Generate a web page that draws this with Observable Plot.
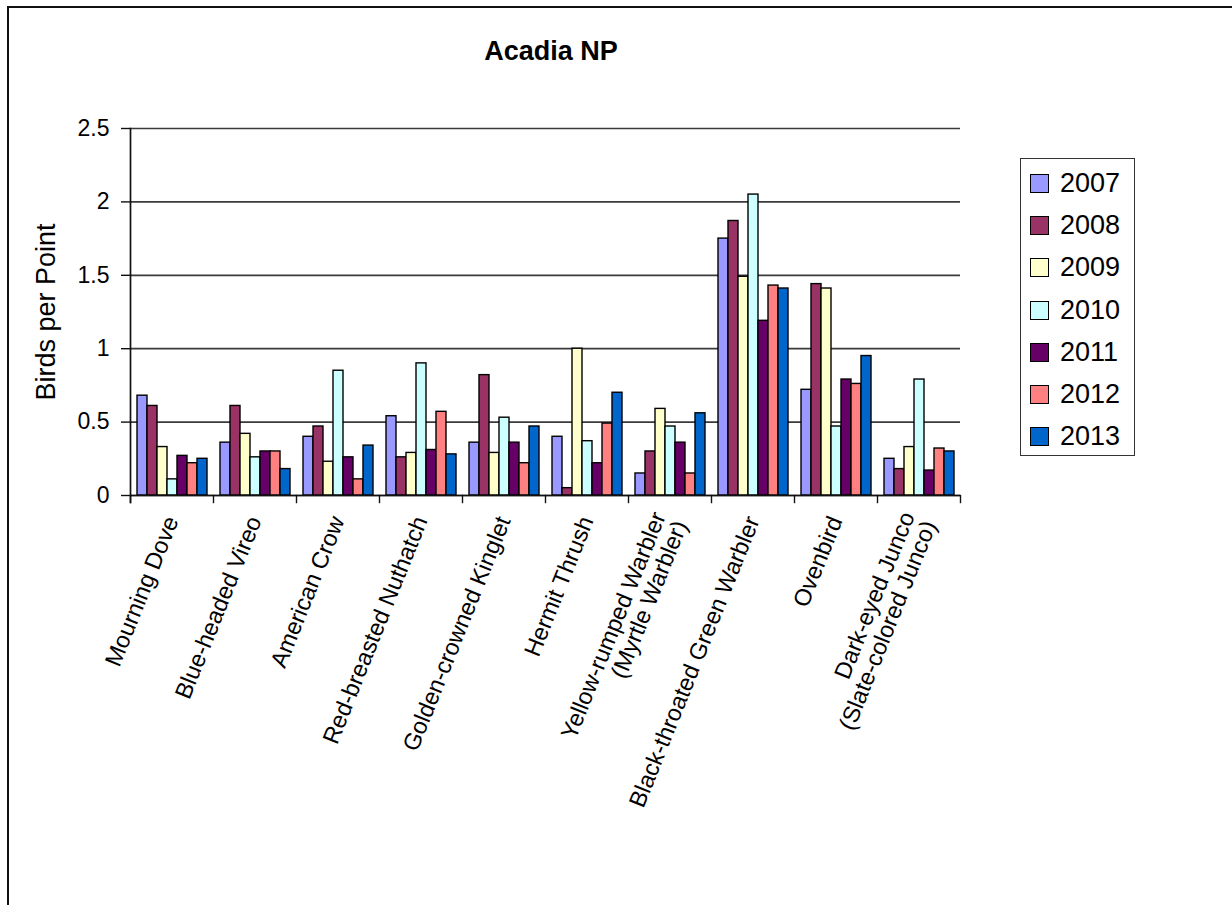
<!DOCTYPE html>
<html>
<head>
<meta charset="utf-8">
<script src="https://cdn.jsdelivr.net/npm/d3@7"></script>
<script src="https://cdn.jsdelivr.net/npm/@observablehq/plot@0.6"></script>
<style>
  body { margin: 0; background: #fff; font-family: "Liberation Sans", Arial, sans-serif; }
  #page { position: relative; width: 1232px; height: 905px; overflow: hidden; background: #fff; }
  #title { position: absolute; left: 351px; width: 400px; top: 38px; text-align: center;
           font-weight: bold; font-size: 27px; line-height: 27px; color: #000; }
  #chart { position: absolute; left: 0; top: 90px; }
  #legend { position: absolute; left: 1020px; top: 158px; width: 115px; height: 298px;
            box-sizing: border-box; border: 1.5px solid #333; padding-top: 3px; background: #fff; }
  .row { display: flex; align-items: center; height: 42.3px; }
  .sw { width: 19px; height: 19px; box-sizing: border-box; border: 1.3px solid #000; margin-left: 9px; margin-right: 11px; }
  .lab { font-size: 27px; line-height: 27px; color: #000; }
  #border { position: absolute; left: 7px; top: 6px; width: 1240px; height: 920px;
            border-left: 2px solid #111; border-top: 2px solid #111; pointer-events: none; z-index: 5; }
</style>
</head>
<body>
<div id="page">
  <div id="title">Acadia NP</div>
  <div id="chart"></div>
  <div id="legend"></div>
  <div id="border"></div>
</div>
<script>
// ---- data ----
const species = [
  "Mourning Dove", "Blue-headed Vireo", "American Crow", "Red-breasted Nuthatch",
  "Golden-crowned Kinglet", "Hermit Thrush", "Yellow-rumped Warbler",
  "Black-throated Green Warbler", "Ovenbird", "Dark-eyed Junco"
];
const tickLabels = [
  "Mourning Dove", "Blue-headed Vireo", "American Crow", "Red-breasted Nuthatch",
  "Golden-crowned Kinglet", "Hermit Thrush", "Yellow-rumped Warbler\n(Myrtle Warbler)",
  "Black-throated Green Warbler", "Ovenbird", "Dark-eyed Junco\n(Slate-colored Junco)"
];
const years = ["2007", "2008", "2009", "2010", "2011", "2012", "2013"];
const colors = ["#9999FF", "#993366", "#FFFFCC", "#CCFFFF", "#660066", "#FF8080", "#0066CC"];

const v2007 = [0.68, 0.36, 0.40, 0.54, 0.36, 0.40, 0.15, 1.75, 0.72, 0.25];
const v2008 = [0.61, 0.61, 0.47, 0.26, 0.82, 0.05, 0.30, 1.87, 1.44, 0.18];
const v2009 = [0.33, 0.42, 0.23, 0.29, 0.29, 1.00, 0.59, 1.49, 1.41, 0.33];
const v2010 = [0.11, 0.26, 0.85, 0.90, 0.53, 0.37, 0.47, 2.05, 0.47, 0.79];
const v2011 = [0.27, 0.30, 0.26, 0.31, 0.36, 0.22, 0.36, 1.19, 0.79, 0.17];
const v2012 = [0.22, 0.30, 0.11, 0.57, 0.22, 0.49, 0.15, 1.43, 0.76, 0.32];
const v2013 = [0.25, 0.18, 0.34, 0.28, 0.47, 0.70, 0.56, 1.41, 0.95, 0.30];

const yTicks = [0, 0.5, 1, 1.5, 2, 2.5];
const yLabel = "Birds per Point";

// ---- build table ----
const series = [v2007, v2008, v2009, v2010, v2011, v2012, v2013];
const rows = species.flatMap((s, i) => years.map((yr, j) => ({species: s, year: yr, value: series[j][i]})));

const W = 1010, H = 780, mT = 38, mB = 375;
const plotH = H - mT - mB;

const chart = Plot.plot({
  width: W, height: H,
  marginLeft: 129, marginRight: 50, marginTop: mT, marginBottom: mB,
  style: {fontFamily: "Liberation Sans, Arial, sans-serif", fontSize: "23px", color: "#000", background: "transparent", overflow: "visible"},
  fx: {domain: species, padding: 0, label: null},
  x: {domain: years, paddingInner: 0, paddingOuter: 0.58, axis: null},
  y: {domain: [0, 2.5], label: null},
  color: {domain: years, range: colors},
  marks: [
    Plot.ruleY(yTicks, {stroke: "#3a3a3a", strokeWidth: 1.7}),
    Plot.barY(rows, {fx: "species", x: "year", y: "value", fill: "year", stroke: "#000", strokeWidth: 1.4}),
    Plot.ruleY([0], {stroke: "#111", strokeWidth: 1.7}),
    Plot.frame({anchor: "left", facetAnchor: "left", insetBottom: -7, stroke: "#111", strokeWidth: 1.7}),
    Plot.frame({anchor: "left", insetTop: plotH, insetBottom: -7, stroke: "#111", strokeWidth: 1.4}),
    Plot.frame({anchor: "right", facetAnchor: "right", insetTop: plotH, insetBottom: -7, stroke: "#111", strokeWidth: 1.4}),
    Plot.axisY({ticks: yTicks, tickSize: 9, tickPadding: 12, tickFormat: d => String(d), label: null, stroke: "#111", strokeWidth: 1.4}),
    Plot.text([yLabel], {fx: () => species[0], frameAnchor: "left", rotate: -90, dx: -84, fontSize: 27, textAnchor: "middle", lineAnchor: "middle"}),
    Plot.axisFx({anchor: "bottom", tickSize: 0, tickPadding: 22, tickRotate: -68, textAnchor: "end", lineAnchor: "middle",
                 fontSize: 23.5, tickFormat: d => tickLabels[species.indexOf(d)], label: null})
  ]
});
document.getElementById("chart").appendChild(chart);

// ---- legend ----
const legend = document.getElementById("legend");
years.forEach((yr, j) => {
  const row = document.createElement("div");
  row.className = "row";
  const sw = document.createElement("div");
  sw.className = "sw";
  sw.style.background = colors[j];
  const lab = document.createElement("span");
  lab.className = "lab";
  lab.textContent = yr;
  row.appendChild(sw); row.appendChild(lab);
  legend.appendChild(row);
});
</script>
</body>
</html>
